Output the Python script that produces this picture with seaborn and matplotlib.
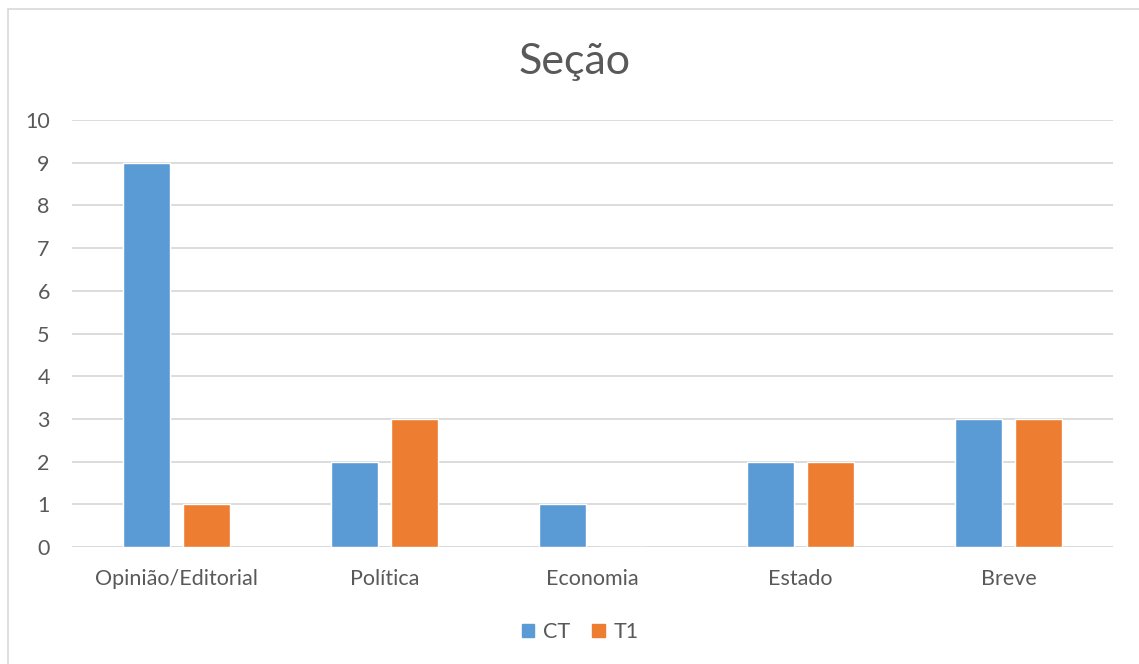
import matplotlib
matplotlib.use("Agg")
import matplotlib.pyplot as plt
import matplotlib.patches as mpatches
import seaborn as sns
import pandas as pd

categories = ["Opinião/Editorial", "Política", "Economia", "Estado", "Breve"]
ct_values = [9, 2, 1, 2, 3]
t1_values = [1, 3, 0, 2, 3]
series_names = ["CT", "T1"]
y_ticks = list(range(0, 11))

df = pd.DataFrame({
    "Seção": categories * 2,
    "Série": [series_names[0]] * len(categories) + [series_names[1]] * len(categories),
    "Valor": ct_values + t1_values,
})

sns.set_theme(style="white")
plt.rcParams["font.family"] = ["Lato", "DejaVu Sans"]

text_color = "#595959"
grid_color = "#d9d9d9"
palette = {"CT": "#5B9BD5", "T1": "#ED7D31"}

fig = plt.figure(figsize=(11.39, 6.64), dpi=100)
fig.patch.set_facecolor("white")

# chart-area frame (only its left and top edges fall inside the canvas)
fig.patches.append(mpatches.Rectangle(
    (8 / 1139, -0.5), 2.0, 1.5 - 9 / 664, transform=fig.transFigure,
    fill=False, edgecolor=grid_color, linewidth=1.2, zorder=0))

ax = fig.add_axes([72 / 1139, 1 - 547 / 664, (1113 - 72) / 1139, (547 - 120) / 664])

sns.barplot(data=df, x="Seção", y="Valor", hue="Série", palette=palette,
            order=categories, hue_order=series_names,
            width=0.577, gap=0.217, ax=ax, legend=False, saturation=1,
            errorbar=None, zorder=3)

ax.set_xlim(-0.5, len(categories) - 0.5)
ax.set_ylim(0, 10)
ax.set_yticks(y_ticks)
ax.yaxis.grid(True, color=grid_color, linewidth=1.3, zorder=0)
ax.set_axisbelow(True)
for s in ax.spines.values():
    s.set_visible(False)
ax.axhline(0, color=grid_color, linewidth=1.3, zorder=1)

ax.set_xlabel("")
ax.set_ylabel("")
ax.tick_params(axis="both", length=0, labelsize=15.5, colors=text_color)
ax.tick_params(axis="y", pad=16)
ax.tick_params(axis="x", pad=16)

fig.text(575 / 1139, 1 - 62 / 664, "Seção", ha="center", va="center",
         fontsize=31, color=text_color)

handles = [mpatches.Patch(color=palette[n], label=n) for n in series_names]
fig.legend(handles=handles, loc="center", bbox_to_anchor=(580 / 1139, 1 - 632 / 664),
           ncol=2, frameon=False, fontsize=15.5, labelcolor=text_color,
           handlelength=0.6, handleheight=0.6, handletextpad=0.4, columnspacing=1.0)

fig.savefig("out.png", dpi=100, facecolor="white")
